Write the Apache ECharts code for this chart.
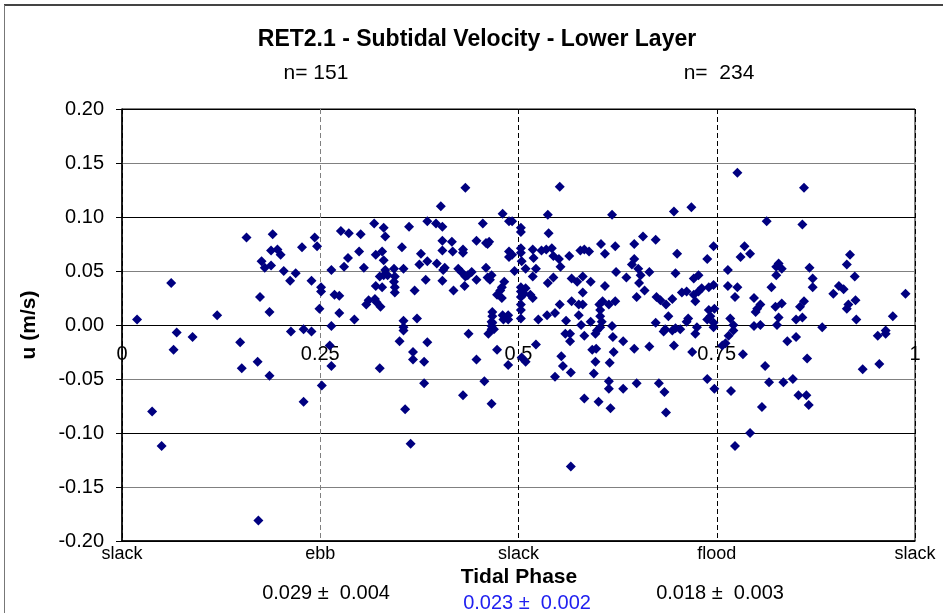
<!DOCTYPE html>
<html>
<head>
<meta charset="utf-8">
<script src="https://cdn.jsdelivr.net/npm/echarts@6/dist/echarts.min.js"></script>
<style>html,body{margin:0;padding:0;background:#fff}#chart{width:943px;height:613px}</style>
</head>
<body>
<div id="chart"></div>
<script>
// ---- data (tidal phase, u in m/s) ----
const ebbPoints = [
[0.157,0.081],[0.190,0.084],[0.243,0.081],[0.246,0.073],[0.227,0.072],[0.188,0.069],[0.196,0.070],[0.200,0.065],
[0.176,0.059],[0.180,0.053],[0.188,0.055],[0.204,0.050],[0.219,0.048],[0.212,0.041],[0.239,0.041],[0.062,0.039],
[0.174,0.026],[0.186,0.012],[0.120,0.009],[0.249,0.015],[0.019,0.005],[0.069,-0.007],[0.089,-0.011],[0.065,-0.023],
[0.149,-0.016],[0.151,-0.040],[0.171,-0.034],[0.186,-0.047],[0.213,-0.006],[0.229,-0.004],[0.239,-0.006],[0.229,-0.071],
[0.038,-0.080],[0.050,-0.112],[0.172,-0.181]
];
const ebbToSlackPoints = [
[0.251,0.035],[0.251,0.031],[0.252,-0.056],
[0.433,0.127],[0.402,0.110],[0.480,0.103],[0.488,0.096],[0.318,0.094],[0.330,0.090],[0.332,0.082],[0.362,0.091],[0.385,0.096],[0.396,0.094],[0.404,0.091],[0.455,0.094],
[0.276,0.087],[0.286,0.085],[0.301,0.084],[0.404,0.078],[0.416,0.077],[0.447,0.078],[0.459,0.076],[0.463,0.077],[0.461,0.075],[0.353,0.072],[0.299,0.068],[0.320,0.065],[0.328,0.068],[0.330,0.060],[0.377,0.066],[0.404,0.069],[0.417,0.068],[0.430,0.070],[0.430,0.067],[0.488,0.068],[0.488,0.063],
[0.285,0.062],[0.280,0.054],[0.305,0.053],[0.264,0.051],[0.355,0.052],[0.375,0.056],[0.385,0.059],[0.397,0.057],[0.407,0.053],[0.405,0.051],[0.332,0.051],[0.343,0.052],[0.330,0.046],[0.335,0.046],[0.344,0.045],[0.343,0.040],[0.344,0.035],[0.325,0.045],[0.424,0.052],[0.428,0.049],[0.436,0.046],[0.441,0.049],[0.433,0.045],[0.459,0.053],[0.495,0.050],
[0.383,0.042],[0.404,0.041],[0.447,0.042],[0.461,0.044],[0.466,0.046],[0.464,0.042],[0.482,0.040],[0.479,0.035],[0.477,0.032],[0.473,0.028],[0.479,0.025],[0.320,0.036],[0.328,0.035],[0.369,0.032],[0.418,0.032],[0.432,0.036],[0.344,0.030],[0.268,0.028],[0.274,0.027],[0.311,0.023],[0.308,0.019],[0.319,0.024],[0.321,0.021],[0.326,0.017],[0.274,0.011],[0.293,0.005],[0.355,0.004],[0.372,0.006],[0.264,-0.001],[0.355,-0.002],[0.467,0.012],[0.467,0.008],[0.466,0.003],[0.466,-0.001],[0.480,0.009],[0.487,0.009],
[0.355,-0.005],[0.350,-0.015],[0.367,-0.025],[0.367,-0.032],[0.385,-0.016],[0.381,-0.034],[0.381,-0.054],[0.325,-0.040],[0.262,-0.019],[0.264,-0.038],[0.357,-0.078],[0.364,-0.110],[0.437,-0.008],[0.447,-0.032],[0.457,-0.052],[0.430,-0.065],[0.466,-0.073],[0.473,-0.023],[0.487,-0.037],[0.467,0.002],[0.466,-0.004],[0.462,-0.008],[0.469,-0.004],[0.481,0.005],[0.487,0.005],[0.492,0.096],[0.492,0.065]
];
const floodPoints = [
[0.503,0.090],[0.503,0.086],[0.503,0.071],[0.503,0.067],[0.503,0.035],[0.503,0.031],[0.503,0.026],[0.503,0.019],[0.503,0.014],[0.503,0.006],[0.504,-0.030],
[0.552,0.128],[0.537,0.102],[0.618,0.102],[0.696,0.105],[0.718,0.109],[0.538,0.085],[0.657,0.082],[0.673,0.079],[0.746,0.073],[0.622,0.073],[0.646,0.075],[0.604,0.075],[0.609,0.066],
[0.518,0.070],[0.529,0.069],[0.535,0.070],[0.542,0.071],[0.544,0.064],[0.551,0.061],[0.553,0.054],[0.519,0.062],[0.504,0.059],[0.509,0.052],[0.564,0.064],[0.578,0.069],[0.583,0.070],[0.589,0.068],[0.700,0.066],[0.738,0.061],[0.646,0.061],[0.643,0.056],[0.651,0.052],[0.654,0.046],[0.652,0.039],[0.623,0.049],[0.636,0.044],[0.665,0.049],[0.698,0.048],
[0.522,0.052],[0.518,0.045],[0.544,0.044],[0.537,0.039],[0.567,0.043],[0.574,0.040],[0.581,0.045],[0.591,0.040],[0.609,0.036],[0.509,0.034],[0.507,0.029],[0.515,0.028],[0.518,0.025],[0.581,0.030],[0.659,0.032],[0.649,0.026],[0.721,0.043],[0.727,0.046],[0.746,0.037],[0.740,0.035],[0.731,0.034],[0.727,0.031],[0.721,0.028],[0.723,0.022],[0.712,0.031],[0.706,0.030],[0.674,0.026],[0.679,0.023],[0.686,0.019],[0.694,0.024],
[0.552,0.019],[0.567,0.022],[0.576,0.019],[0.581,0.019],[0.602,0.019],[0.606,0.022],[0.614,0.019],[0.622,0.022],[0.603,0.014],[0.536,0.009],[0.546,0.011],[0.525,0.005],[0.560,0.004],[0.576,0.009],[0.579,0.000],[0.591,0.003],[0.603,0.008],[0.605,0.003],[0.618,-0.001],[0.689,0.008],[0.673,0.002],[0.714,0.006],[0.740,0.014],[0.747,0.015],[0.742,0.008],[0.746,0.002],[0.738,0.005],[0.725,-0.002],[0.698,-0.003],[0.685,-0.004],
[0.603,-0.002],[0.597,-0.008],[0.599,-0.005],[0.559,-0.008],[0.565,-0.008],[0.565,-0.015],[0.583,-0.010],[0.619,-0.011],[0.632,-0.015],[0.646,-0.022],[0.665,-0.020],[0.696,-0.019],[0.719,-0.025],[0.683,-0.006],[0.694,-0.005],[0.704,-0.004],[0.712,0.003],[0.723,-0.008],[0.746,-0.002],[0.522,-0.018],[0.509,-0.034],[0.554,-0.029],[0.556,-0.038],[0.566,-0.044],[0.546,-0.048],[0.593,-0.023],[0.598,-0.022],[0.597,-0.034],[0.595,-0.045],[0.620,-0.025],[0.615,-0.035],[0.614,-0.052],[0.614,-0.059],[0.632,-0.059],[0.649,-0.054],[0.677,-0.054],[0.684,-0.062],[0.686,-0.081],[0.583,-0.068],[0.601,-0.071],[0.616,-0.077],[0.566,-0.131],[0.738,-0.050],[0.747,-0.059]
];
const floodToSlackPoints = [
[0.776,0.141],[0.860,0.127],[0.813,0.096],[0.858,0.093],[0.785,0.073],[0.792,0.066],[0.780,0.063],[0.918,0.065],[0.914,0.056],[0.764,0.051],[0.828,0.057],[0.825,0.054],[0.832,0.052],[0.825,0.046],[0.867,0.053],[0.924,0.045],[0.871,0.043],[0.871,0.035],[0.764,0.036],[0.776,0.035],[0.773,0.026],[0.819,0.035],[0.904,0.036],[0.910,0.033],[0.897,0.029],[0.988,0.029],[0.797,0.025],[0.805,0.019],[0.799,0.012],[0.801,0.015],[0.824,0.017],[0.832,0.020],[0.860,0.022],[0.855,0.017],[0.925,0.023],[0.916,0.019],[0.914,0.015],[0.828,0.007],[0.826,0.000],[0.850,0.005],[0.858,0.007],[0.926,0.005],[0.972,0.008],[0.767,0.006],[0.771,0.000],[0.797,-0.001],[0.805,0.000],[0.883,-0.002],[0.963,-0.005],[0.771,-0.005],[0.765,-0.010],[0.761,-0.017],[0.757,-0.019],[0.953,-0.010],[0.963,-0.008],[0.839,-0.015],[0.850,-0.011],[0.783,-0.027],[0.864,-0.031],[0.811,-0.038],[0.934,-0.041],[0.955,-0.036],[0.816,-0.053],[0.834,-0.053],[0.846,-0.050],[0.768,-0.061],[0.853,-0.065],[0.863,-0.065],[0.866,-0.074],[0.807,-0.076],[0.792,-0.100],[0.773,-0.112]
];
const phaseTickLabels = ['0', '0.25', '0.5', '0.75', '1'];
const tideTickLabels = ['slack', 'ebb', 'slack', 'flood', 'slack'];
const countLabels = ['n= 151', 'n=  234'];
const statLabels = ['0.029 \u00b1  0.004', '0.023 \u00b1  0.002', '0.018 \u00b1  0.003'];
const titleText = 'RET2.1 - Subtidal Velocity - Lower Layer';
const xTitle = 'Tidal Phase';
const yTitle = 'u (m/s)';
const uMin = -0.2, uMax = 0.2, uStep = 0.05;

const FONT = '"Liberation Sans", Arial, sans-serif';
const GRID = {left: 122, right: 28, top: 109, bottom: 72};
const plotHeight = 613 - GRID.top - GRID.bottom;
// distance from the top of the plot down to u = 0
const zeroOffset = plotHeight * (uMax - 0) / (uMax - uMin);
const chart = echarts.init(document.getElementById('chart'), null, {renderer: 'canvas'});
const allPoints = ebbPoints.concat(ebbToSlackPoints, floodPoints, floodToSlackPoints);

chart.setOption({
  animation: false,
  backgroundColor: '#fff',
  textStyle: {fontFamily: FONT},
  grid: Object.assign({show: true, borderColor: '#000', borderWidth: 1, backgroundColor: '#fff'}, GRID),
  xAxis: [{
    // phase axis crossing at u = 0 (labels below the zero line)
    type: 'value', min: 0, max: 1, interval: 0.25, position: 'top', offset: -zeroOffset,
    axisLine: {onZero: false, lineStyle: {color: '#000', width: 1}},
    axisTick: {show: false},
    axisLabel: {inside: true, margin: 19, fontSize: 20, color: '#000', fontFamily: FONT,
      formatter: (v) => phaseTickLabels[Math.round(v * 4)]},
    splitLine: {show: true, lineStyle: {type: [5, 3], width: 1, color: ['#000', '#808080', '#000', '#000', '#000']}}
  }, {
    // tide-stage labels along the bottom edge of the plot
    type: 'value', min: 0, max: 1, interval: 0.25, position: 'bottom',
    axisLine: {onZero: false, lineStyle: {color: '#000', width: 1.5}},
    axisTick: {show: false},
    axisLabel: {margin: 4, fontSize: 18, color: '#000', fontFamily: FONT,
      formatter: (v) => tideTickLabels[Math.round(v * 4)]},
    splitLine: {show: false}
  }],
  yAxis: {
    type: 'value', min: uMin, max: uMax, interval: uStep,
    axisLine: {onZero: false, lineStyle: {color: '#000', width: 1.5}},
    axisTick: {show: true, length: 6, lineStyle: {color: '#000'}},
    axisLabel: {margin: 18, fontSize: 20, color: '#000', fontFamily: FONT, formatter: (v) => v.toFixed(2)},
    splitLine: {show: true, lineStyle: {color: ['#000', '#808080'], width: 1}},
    name: yTitle, nameLocation: 'middle', nameGap: 82,
    nameTextStyle: {fontSize: 21, fontWeight: 'bold', color: '#000', fontFamily: FONT}
  },
  series: [{
    type: 'scatter', xAxisIndex: 0, yAxisIndex: 0,
    data: allPoints, symbol: 'diamond', symbolSize: 10,
    itemStyle: {color: '#000080', opacity: 1}
  }],
  graphic: [
    {type: 'line', shape: {x1: 4, y1: 5, x2: 943, y2: 5}, style: {stroke: '#444', lineWidth: 2}},
    {type: 'line', shape: {x1: 4.5, y1: 5, x2: 4.5, y2: 613}, style: {stroke: '#777', lineWidth: 1}},
    {type: 'text', x: 477, y: 40, style: {text: titleText, fontSize: 23, fontWeight: 'bold', fill: '#000', fontFamily: FONT, textAlign: 'center', textVerticalAlign: 'middle'}},
    {type: 'text', x: 316, y: 73, style: {text: countLabels[0], fontSize: 21, fill: '#000', fontFamily: FONT, textAlign: 'center', textVerticalAlign: 'middle'}},
    {type: 'text', x: 719, y: 73, style: {text: countLabels[1], fontSize: 21, fill: '#000', fontFamily: FONT, textAlign: 'center', textVerticalAlign: 'middle'}},
    {type: 'text', x: 519, y: 577, style: {text: xTitle, fontSize: 21, fontWeight: 'bold', fill: '#000', fontFamily: FONT, textAlign: 'center', textVerticalAlign: 'middle'}},
    {type: 'text', x: 326, y: 593, style: {text: statLabels[0], fontSize: 20, fill: '#000', fontFamily: FONT, textAlign: 'center', textVerticalAlign: 'middle'}},
    {type: 'text', x: 527, y: 603, style: {text: statLabels[1], fontSize: 20, fill: '#2020f0', fontFamily: FONT, textAlign: 'center', textVerticalAlign: 'middle'}},
    {type: 'text', x: 720, y: 593, style: {text: statLabels[2], fontSize: 20, fill: '#000', fontFamily: FONT, textAlign: 'center', textVerticalAlign: 'middle'}}
  ]
});
</script>
</body>
</html>
